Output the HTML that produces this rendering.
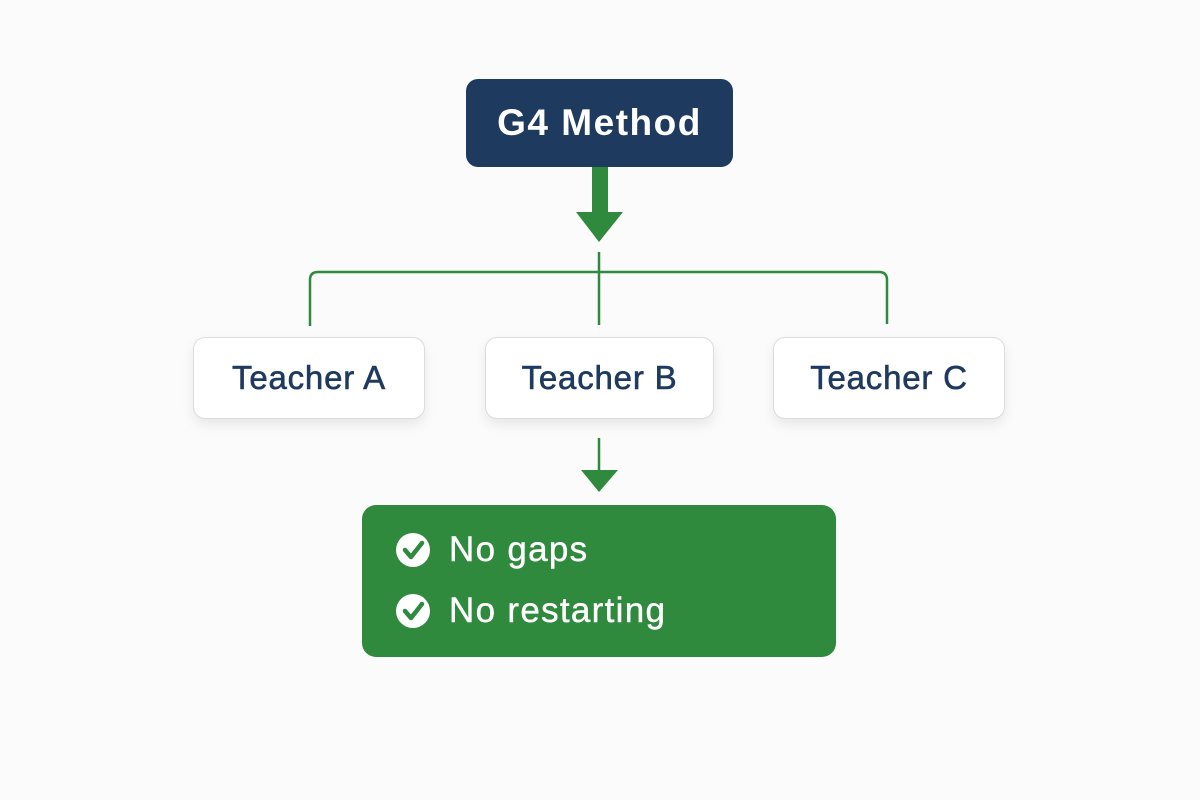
<!DOCTYPE html>
<html><head><meta charset="utf-8"><style>
html,body{margin:0;padding:0;background:#fbfbfb;}
body{width:1200px;height:800px;position:relative;overflow:hidden;font-family:"Liberation Sans",sans-serif;}
.box{position:absolute;display:flex;align-items:center;justify-content:center;box-sizing:border-box;}
.top{left:466px;top:79px;width:267px;height:88px;background:#1e3a5f;border-radius:12px;color:#fff;font-weight:bold;font-size:37px;letter-spacing:1.5px;}
.t{top:337px;height:82px;background:#fff;border:1.5px solid #dcdcdc;border-radius:12px;color:#1e3a5f;font-size:33px;letter-spacing:0.8px;-webkit-text-stroke:0.6px #1e3a5f;box-shadow:0 6px 12px rgba(0,0,0,0.08);}
.res{left:362px;top:505px;width:474px;height:152px;background:#2f8a3d;border-radius:14px;}
.item{position:absolute;left:449px;color:#fff;font-size:35px;letter-spacing:1.3px;-webkit-text-stroke:0.4px #fff;}
</style></head><body>
<div class="box top">G4 Method</div>
<div class="box t" style="left:193px;width:232px;">Teacher A</div>
<div class="box t" style="left:485px;width:229px;">Teacher B</div>
<div class="box t" style="left:773px;width:232px;">Teacher C</div>
<div class="box res"></div>
<svg width="1200" height="800" style="position:absolute;left:0;top:0">
<rect x="592" y="167" width="16" height="46" fill="#2f8a3d"/>
<polygon points="576,212 623,212 599,242" fill="#2f8a3d"/>
<line x1="599" y1="252" x2="599" y2="325" stroke="#2f8a3d" stroke-width="2.5"/>
<path d="M310,326 V280 Q310,272 318,272 H879 Q887,272 887,280 V324" fill="none" stroke="#2f8a3d" stroke-width="2.5"/>
<line x1="599" y1="438" x2="599" y2="472" stroke="#2f8a3d" stroke-width="2.5"/>
<polygon points="581,470 618,470 599,492" fill="#2f8a3d"/>
<g fill="#fff">
<circle cx="413" cy="550" r="17"/><circle cx="413" cy="611" r="17"/>
</g>
<g fill="none" stroke="#2f8a3d" stroke-width="4.5" stroke-linecap="round" stroke-linejoin="round">
<polyline points="405,550 411,557 422,543"/><polyline points="405,611 411,618 422,604"/>
</g>
</svg>
<div class="item" style="top:530px;">No gaps</div>
<div class="item" style="top:591px;">No restarting</div>
</body></html>
